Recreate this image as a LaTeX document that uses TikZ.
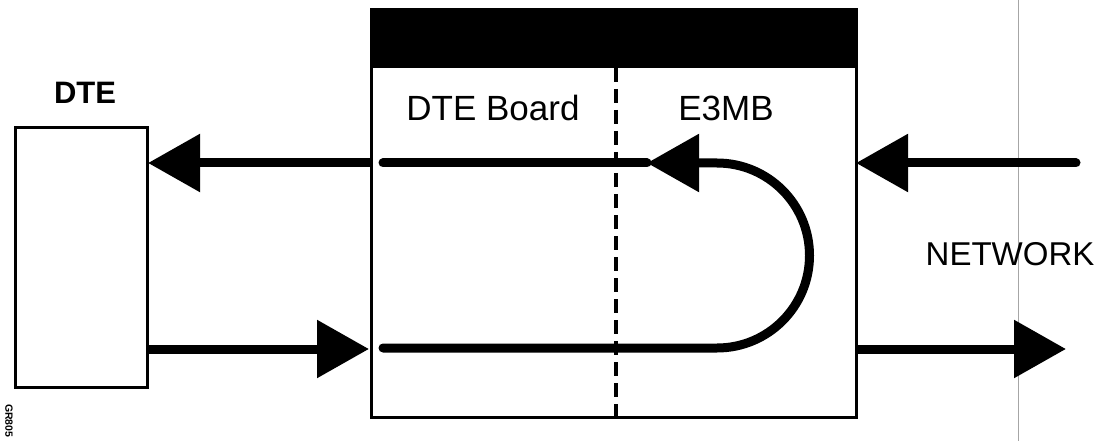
\documentclass[tikz,border=0pt]{standalone}
\usepackage{fontspec}
\setmainfont{Liberation Sans}
\usetikzlibrary{arrows.meta}
\tikzset{
  box/.style={draw=black, line width=3pt, fill=white, inner sep=0pt, outer sep=0pt},
  signal/.style={line width=9pt, -{Triangle[length=52pt,width=56pt]}},
  wire/.style={line width=9pt, line cap=round},
  lbl/.style={font=\fontsize{35}{40}\selectfont, inner sep=0pt},
  divider/.style={line width=3.2pt, dash pattern=on 14pt off 7pt},
}
\begin{document}
\begin{tikzpicture}[x=1pt,y=-1pt]
\useasboundingbox (0,0) rectangle (1098,441);
\fill[white] (0,0) rectangle (1098,441);
% page edge line
\draw[gray!70, line width=0.8pt] (1018,0) -- (1018,441);
% DTE box
\node[box, minimum width=132pt, minimum height=259pt] (dte) at (81,257.5) {};
\node[lbl, font=\bfseries\fontsize{31}{36}\selectfont] (dtelbl) at (85,93) {DTE};
% main box
\node[box, minimum width=485pt, minimum height=407pt] (main) at (613.5,213.5) {};
\fill[black] (main.north west) rectangle (856,68);
\coordinate (divtop) at (616,68);
\coordinate (divbot) at (616,417);
\draw[divider] (divtop) -- (divbot);
\node[lbl] (board) at (493,108) {DTE Board};
\node[lbl] (e3mb) at (726,108) {E3MB};
\node[lbl, font=\fontsize{33}{38}\selectfont] (net) at (1010,254) {NETWORK};
% coordinates
\coordinate (inL) at (370,163);
\coordinate (dteIn) at (148,163);
\coordinate (dteOut) at (148,349);
\coordinate (mainIn) at (369,349);
\coordinate (netIn) at (1076,163);
\coordinate (mainR) at (856,163);
\coordinate (mainOut) at (856,349);
\coordinate (netOut) at (1066,349);
\coordinate (upL) at (383,163);
\coordinate (upTip) at (647,163);
\coordinate (loL) at (383,348);
\coordinate (loR) at (717,348);
\coordinate (upR) at (717,163);
% outer arrows
\draw[signal] (inL) -- (dteIn);
\draw[signal] (dteOut) -- (mainIn);
\draw[signal, line cap=round] (netIn) -- (mainR);
\draw[signal] (mainOut) -- (netOut);
% inner loop
\draw[wire] (upL) -- (upTip);
\draw[signal, line cap=round] (loL) -- (loR) arc[start angle=-90, end angle=90, radius=92.5pt] -- (upTip);
% figure code
\node[font=\bfseries\fontsize{10.5}{12}\selectfont, rotate=-90, anchor=west, inner sep=0pt] (code) at (9,404) {GR805};
\end{tikzpicture}
\end{document}
